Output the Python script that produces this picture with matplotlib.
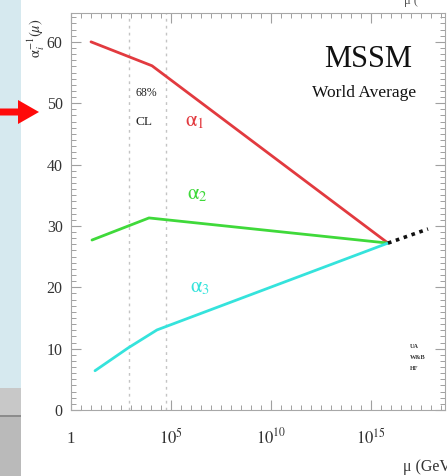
import numpy as np
import matplotlib
matplotlib.use('Agg')
import matplotlib.pyplot as plt
from matplotlib.ticker import FixedLocator, MultipleLocator, NullFormatter
from matplotlib.patches import Rectangle, Polygon

plt.rcParams['font.family'] = 'serif'
plt.rcParams['font.serif'] = ['Liberation Serif', 'DejaVu Serif']
plt.rcParams['mathtext.fontset'] = 'stix'

# running inverse couplings, x given as log10(mu / GeV)
log_mu_1 = [1.0, 4.05, 15.85]
inv_alpha_1 = [60.0, 56.1, 27.2]
log_mu_2 = [1.05, 3.9, 15.85]
inv_alpha_2 = [27.7, 31.3, 27.2]
log_mu_3 = [1.2, 2.85, 4.3, 15.85]
inv_alpha_3 = [6.4, 10.1, 13.05, 27.2]
# continuation above unification
log_mu_ext = [15.85, 17.85]
inv_alpha_ext = [27.2, 29.5]
# 68% CL band for the SUSY threshold
cl_band = [2.9, 4.75]

major_exps = [0, 5, 10, 15]
major_labels = ['1', '$10^{5}$', '$10^{10}$', '$10^{15}$']

W, H = 447, 476
fig = plt.figure(figsize=(W / 100, H / 100), dpi=100)


def px(x, y):
    return (x / W, 1 - y / H)


def box(x0, y0, x1, y1, color):
    fig.patches.append(Rectangle(px(x0, y1), (x1 - x0) / W, (y1 - y0) / H,
                                 transform=fig.transFigure, color=color, lw=0, zorder=0))


# slide decoration on the left
box(0, 0, 21, 388, '#d6e9ef')
box(0, 388, 21, 415, '#c8c8c8')
box(0, 415, 21, 417, '#8c8c8c')
box(0, 417, 21, 476, '#bababa')
arrow = [(0, 108.5), (18, 108.5), (18, 100), (39, 112), (18, 124), (18, 115.5), (0, 115.5)]
fig.patches.append(Polygon([px(*p) for p in arrow], closed=True, transform=fig.transFigure,
                           color='#ff0a0a', lw=0, zorder=5))

ax = fig.add_axes([71 / W, 1 - 410 / H, (445 - 71) / W, (410 - 13) / H])
ax.set_xscale('log')
ax.set_xlim(1, 10 ** 18.7)
ax.set_ylim(0, 64.7)

for c in cl_band:
    ax.axvline(10 ** c, color='#c4c4c4', lw=1.0, ls=(0, (2, 3)), zorder=1)

ax.plot(10 ** np.array(log_mu_1), inv_alpha_1, color='#e23a3f', lw=2.0, solid_capstyle='round')
ax.plot(10 ** np.array(log_mu_2), inv_alpha_2, color='#3fd93a', lw=2.0, solid_capstyle='round')
ax.plot(10 ** np.array(log_mu_3), inv_alpha_3, color='#35e3dc', lw=2.0, solid_capstyle='round')
ax.plot(10 ** np.array(log_mu_ext), inv_alpha_ext, color='#111111', lw=2.6, ls=(0, (1, 1.3)))

ax.text(10 ** 3.25, 51.7, '68%', fontsize=8.5, va='center', ha='left', color='#222222')
ax.text(10 ** 3.25, 47.0, 'CL', fontsize=9.5, va='center', ha='left', color='#222222')
ax.text(10 ** 6.2, 47.0, r'$\mathrm{\alpha}_1$', fontsize=15, color='#e23a3f', ha='center', va='center')
ax.text(10 ** 6.3, 35.1, r'$\mathrm{\alpha}_2$', fontsize=15, color='#3fd93a', ha='center', va='center')
ax.text(10 ** 6.45, 19.9, r'$\mathrm{\alpha}_3$', fontsize=15, color='#35e3dc', ha='center', va='center')

ax.text(0.794, 0.882, 'MSSM', transform=ax.transAxes, fontsize=22, ha='center', va='center',
        color='#111111')
ax.text(0.783, 0.798, 'World Average', transform=ax.transAxes, fontsize=12.5, ha='center',
        va='center', color='#111111')
for i, s in enumerate(['UA', 'W&B', 'HF']):
    ax.text(10 ** 16.95, 10.3 - i * 1.8, s, fontsize=4.5, ha='left', va='center',
            color='#333333', fontweight='bold')

# axis frame and ticks
for sp in ax.spines.values():
    sp.set_color('#a8a8a8')
    sp.set_linewidth(0.8)
ax.xaxis.set_major_locator(FixedLocator([10.0 ** e for e in major_exps]))
ax.xaxis.set_minor_locator(FixedLocator(10 ** np.arange(0, 18.75, 0.5)))
ax.xaxis.set_minor_formatter(NullFormatter())
ax.set_xticklabels(major_labels)
ax.yaxis.set_major_locator(MultipleLocator(10))
ax.yaxis.set_minor_locator(MultipleLocator(1))
ax.tick_params(which='both', direction='in', top=True, right=True, color='#a0a0a0')
ax.tick_params(which='major', length=7, width=0.8)
ax.tick_params(which='minor', length=3.5, width=0.7)
ax.tick_params(axis='y', labelsize=11.5, pad=6, labelcolor='#333333')
ax.tick_params(axis='x', labelsize=12, pad=24, labelcolor='#333333')
for lab in ax.get_xticklabels():
    lab.set_verticalalignment('baseline')

fig.text(*px(36, 38), r'$\mathrm{\alpha}_i^{-1}(\mu)$', rotation=90, ha='center', va='center',
         fontsize=10.5, color='#333333')
fig.text(*px(403, 467), 'μ (GeV)', ha='left', va='center', fontsize=11.5, color='#333333')
fig.text(*px(404, 1), 'μ (', ha='left', va='center', fontsize=9, color='#555555')

fig.savefig('out.png', dpi=100)
